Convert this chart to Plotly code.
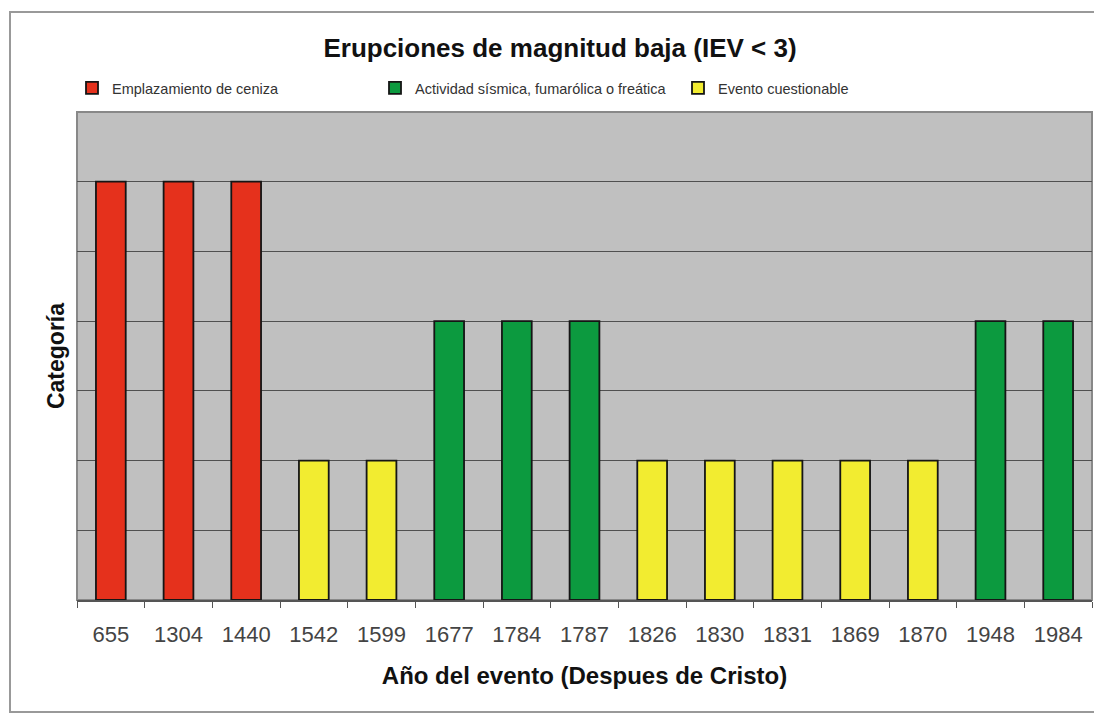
import plotly.graph_objects as go

years = ["655", "1304", "1440", "1542", "1599", "1677", "1784", "1787",
         "1826", "1830", "1831", "1869", "1870", "1948", "1984"]
tipo = ["ceniza", "ceniza", "ceniza", "cuest", "cuest", "sism", "sism", "sism",
        "cuest", "cuest", "cuest", "cuest", "cuest", "sism", "sism"]
categoria = [6, 6, 6, 2, 2, 4, 4, 4, 2, 2, 2, 2, 2, 4, 4]

series_names = {
    "ceniza": "Emplazamiento de ceniza",
    "sism": "Actividad sísmica, fumarólica o freática",
    "cuest": "Evento cuestionable",
}
series_colors = {"ceniza": "#E5311C", "sism": "#0C9A3F", "cuest": "#F2EC30"}
order = ["ceniza", "sism", "cuest"]

fig = go.Figure()
for key in order:
    xs = [y for y, t in zip(years, tipo) if t == key]
    vs = [v for v, t in zip(categoria, tipo) if t == key]
    fig.add_trace(go.Bar(
        x=xs, y=vs, name=series_names[key],
        marker=dict(color=series_colors[key], line=dict(color="#151515", width=1.8)),
        width=0.44,
    ))

# page body has an 8px margin; work in figure pixels
W, H = 1094, 707
L, T = 69, 104
R = W - (1092 - 8)
B = H - (600 - 8)
pw, ph = W - L - R, H - T - B

def px_x(x):
    return (x - L) / pw

def px_y(y):
    return (H - B - y) / ph

fig.update_layout(
    width=W, height=H,
    margin=dict(l=L, r=R, t=T, b=B),
    paper_bgcolor="white",
    plot_bgcolor="#C0C0C0",
    barmode="overlay",
    showlegend=True,
    font=dict(family="Liberation Sans, Arial, sans-serif", color="#333"),
    title=dict(text="<b>Erupciones de magnitud baja (IEV &lt; 3)</b>",
               x=552 / W, xanchor="center", xref="container",
               y=1 - 40 / H, yanchor="middle",
               font=dict(size=26, color="#111")),
    legend=dict(orientation="h", x=px_x(64), xanchor="left",
                y=px_y(80), yanchor="middle",
                font=dict(size=14.5, color="#333"),
                bgcolor="rgba(0,0,0,0)", traceorder="normal",
                entrywidth=258, entrywidthmode="pixels"),
    xaxis=dict(
        categoryorder="array", categoryarray=years,
        showline=True, linecolor="#555", linewidth=1.5,
        ticks="outside", ticklen=6, tickcolor="#555",
        tickson="boundaries",
        showgrid=False,
        tickfont=dict(size=22, color="#444"),
        ticklabelstandoff=14,
        title=dict(text="<b>Año del evento (Despues de Cristo)</b>",
                   font=dict(size=24, color="#111"), standoff=21),
        mirror=False,
    ),
    yaxis=dict(
        range=[0, 7], dtick=1,
        showticklabels=False,
        showgrid=True, gridcolor="#505050", gridwidth=1.3,
        zeroline=False, showline=False,
        title=dict(text="<b>Categoría</b>", font=dict(size=23, color="#111"),
                   standoff=4),
    ),
)

# plot area border (gray frame)
fig.add_shape(type="rect", xref="paper", yref="paper", x0=0, x1=1, y0=0, y1=1,
              line=dict(color="#888", width=2), fillcolor="rgba(0,0,0,0)", layer="below")
# outer chart frame
fig.add_shape(type="rect", xref="paper", yref="paper",
              x0=px_x(2), x1=px_x(1110), y0=px_y(704), y1=px_y(4),
              line=dict(color="#999", width=2), fillcolor="rgba(0,0,0,0)")

fig.write_html("out.html")
